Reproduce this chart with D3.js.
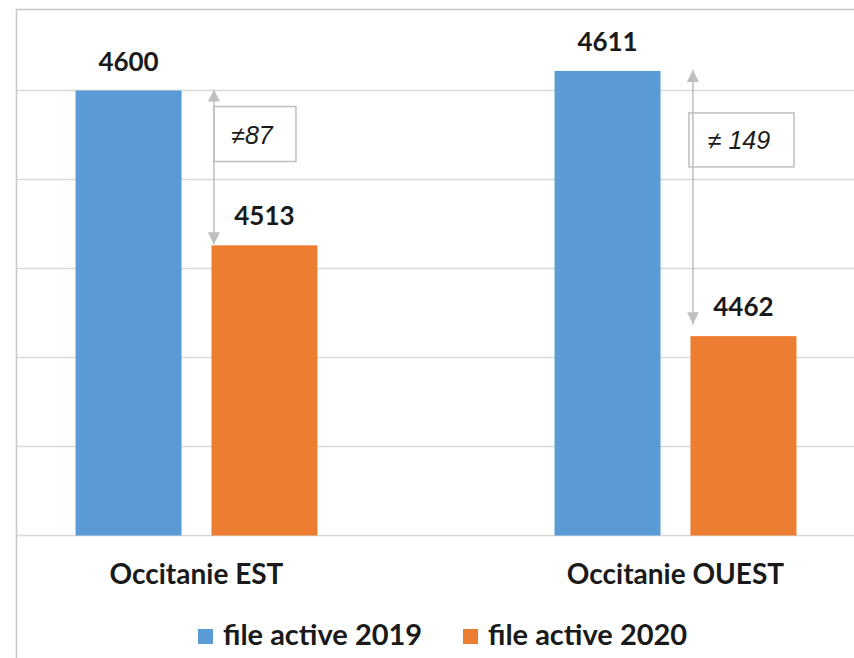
<!DOCTYPE html>
<html>
<head>
<meta charset="utf-8">
<script src="https://cdn.jsdelivr.net/npm/d3@7"></script>
<style>
  body { margin: 0; background: #fff; }
  text { font-family: Lato, "Noto Sans", sans-serif; }
</style>
</head>
<body>
<script>
const categories = ['Occitanie EST', 'Occitanie OUEST'];
const series = ['file active 2019', 'file active 2020'];
const values2019 = [4600, 4611];
const values2020 = [4513, 4462];
const diffLabels = ['\u226087', '\u2260 149'];
const gridValues = [4350, 4400, 4450, 4500, 4550, 4600];
const colors = ['#5b9bd5', '#ed7d31'];

const width = 854;
const height = 658;

const svg = d3.select(document.body)
  .append('svg')
  .attr('width', width)
  .attr('height', height);

// outer frame (only left and top edges are visible in the crop)
svg.append('path')
  .attr('d', 'M16.5,658V9.5H854')
  .style('fill', 'none')
  .style('stroke', '#c8c8c8')
  .style('stroke-width', 1.5);

const y = d3.scaleLinear()
  .domain([4350, 4650])
  .range([535.5, 1.5]);

const x0 = d3.scaleBand()
  .domain(categories)
  .range([-43, 915])
  .paddingInner(0.495)
  .paddingOuter(0.2475);

const x1 = d3.scaleBand()
  .domain(series)
  .range([0, x0.bandwidth()])
  .paddingInner(0.22);

// gridlines
svg.append('g')
  .selectAll('line')
  .data(gridValues)
  .enter()
  .append('line')
  .attr('x1', 17)
  .attr('x2', width)
  .attr('y1', d => y(d))
  .attr('y2', d => y(d))
  .style('stroke', '#d9d9d9')
  .style('stroke-width', 1.5);

const rows = categories.map((c, i) => ({
  cat: c,
  vals: [values2019[i], values2020[i]],
  diff: diffLabels[i]
}));

const groups = svg.selectAll('g.grp')
  .data(rows)
  .enter()
  .append('g')
  .attr('class', 'grp')
  .attr('transform', d => `translate(${x0(d.cat)},0)`);

groups.selectAll('rect')
  .data(d => d.vals.map((v, j) => ({ s: series[j], v: v, j: j })))
  .enter()
  .append('rect')
  .attr('x', d => x1(d.s))
  .attr('width', x1.bandwidth())
  .attr('y', d => y(d.v))
  .attr('height', d => y(4350) - y(d.v))
  .style('fill', d => colors[d.j]);

groups.selectAll('text.val')
  .data(d => d.vals.map((v, j) => ({ s: series[j], v: v })))
  .enter()
  .append('text')
  .attr('class', 'val')
  .attr('x', d => x1(d.s) + x1.bandwidth() / 2)
  .attr('y', d => y(d.v) - 20)
  .attr('text-anchor', 'middle')
  .style('font-size', '26px')
  .style('font-weight', 700)
  .style('fill', '#1a1a1a')
  .text(d => d.v);

// difference annotations (hand placed boxes, as in the original)
const boxes = [
  { dx: 0, dy: 16, w: 82, h: 55, bottomGap: 1, tx: 38, ty: 53 },
  { dx: -4, dy: 42, w: 105, h: 54, bottomGap: 12, tx: 50, ty: 78 }
];

const defs = svg.append('defs');
defs.append('marker')
  .attr('id', 'head')
  .attr('viewBox', '0 0 12 12')
  .attr('refX', 12)
  .attr('refY', 6)
  .attr('markerWidth', 12)
  .attr('markerHeight', 12)
  .attr('markerUnits', 'userSpaceOnUse')
  .attr('orient', 'auto-start-reverse')
  .append('path')
  .attr('d', 'M0,0L12,6L0,12Z')
  .style('fill', '#bfbfbf');

groups.each(function (d, i) {
  const g = d3.select(this);
  const ax = x1(series[1]) + 2.5;
  const b = boxes[i];
  const top = y(d.vals[0]);
  g.append('rect')
    .attr('x', ax + b.dx)
    .attr('y', top + b.dy)
    .attr('width', b.w)
    .attr('height', b.h)
    .style('fill', 'none')
    .style('stroke', '#bfbfbf')
    .style('stroke-width', 1.5);
  g.append('line')
    .attr('x1', ax)
    .attr('x2', ax)
    .attr('y1', top - 1)
    .attr('y2', y(d.vals[1]) - b.bottomGap)
    .style('stroke', '#bfbfbf')
    .style('stroke-width', 1.5)
    .attr('marker-start', 'url(#head)')
    .attr('marker-end', 'url(#head)');
  g.append('text')
    .attr('x', ax + b.dx + b.tx)
    .attr('y', top + b.ty)
    .attr('text-anchor', 'middle')
    .style('font-family', '"Liberation Sans", Arial, sans-serif')
    .style('font-size', '25px')
    .style('font-style', 'italic')
    .style('fill', '#1a1a1a')
    .text(d.diff);
});

// category labels
svg.append('g')
  .selectAll('text')
  .data(categories)
  .enter()
  .append('text')
  .attr('x', d => x0(d) + x0.bandwidth() / 2)
  .attr('y', 584)
  .attr('text-anchor', 'middle')
  .style('font-size', '28px')
  .style('font-weight', 700)
  .style('fill', '#1a1a1a')
  .text(d => d);

// legend
const legendX = [198, 463];
const legend = svg.append('g')
  .selectAll('g')
  .data(series)
  .enter()
  .append('g')
  .attr('transform', (d, i) => `translate(${legendX[i]},0)`);

legend.append('rect')
  .attr('x', 0)
  .attr('y', 629)
  .attr('width', 15)
  .attr('height', 15)
  .style('fill', (d, i) => colors[i]);

legend.append('text')
  .attr('x', 25)
  .attr('y', 645)
  .style('font-size', '29px')
  .style('font-weight', 700)
  .style('fill', '#1a1a1a')
  .text(d => d);
</script>
</body>
</html>
